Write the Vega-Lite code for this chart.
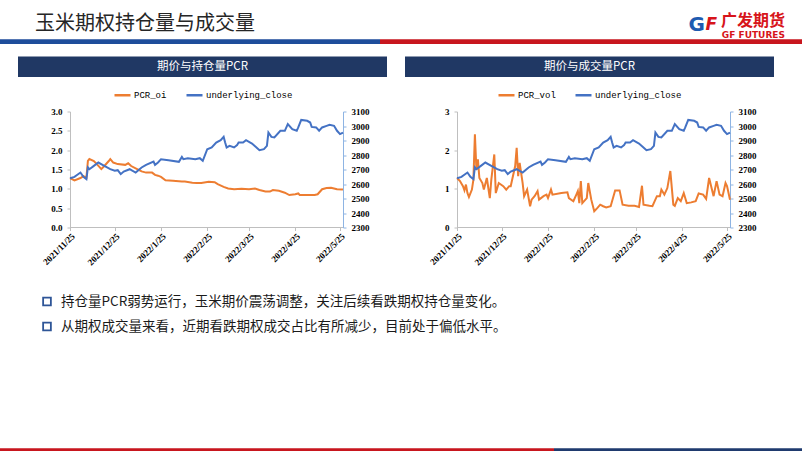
{
  "$schema": "https://vega.github.io/schema/vega-lite/v6.json",
  "background": "white",
  "padding": {"left": 0, "top": 12.5, "right": 0, "bottom": 0},
  "spacing": 12,
  "resolve": {"scale": {"color": "independent"}, "legend": {"color": "independent"}},
  "config": {
    "view": {"stroke": null},
    "font": "Noto Sans CJK SC",
    "axis": {"labelFont": "Liberation Serif", "labelFontWeight": "bold", "labelFontSize": 9, "labelColor": "#000000", "grid": false, "tickSize": 3, "domainColor": "#BFBFBF", "tickColor": "#BFBFBF", "domainWidth": 1},
    "legend": {"orient": "top", "direction": "horizontal", "symbolType": "stroke", "symbolStrokeWidth": 2.5, "symbolSize": 256, "labelFont": "Liberation Mono", "labelFontSize": 9, "labelColor": "#000000", "columnPadding": 14, "offset": 11, "padding": 0, "labelOffset": 2, "layout": {"top": {"anchor": "middle"}}}
  },
  "datasets": {
    "close": [
      {"date": "2021/11/25", "close": 2640}, {"date": "2021/11/28", "close": 2649}, {"date": "2021/12/02", "close": 2679}, {"date": "2021/12/04", "close": 2649}, {"date": "2021/12/06", "close": 2633}, {"date": "2021/12/07", "close": 2714}, {"date": "2021/12/08", "close": 2702}, {"date": "2021/12/11", "close": 2725}, {"date": "2021/12/14", "close": 2748}, {"date": "2021/12/18", "close": 2725}, {"date": "2021/12/22", "close": 2702}, {"date": "2021/12/25", "close": 2691}, {"date": "2021/12/27", "close": 2695}, {"date": "2021/12/29", "close": 2668}, {"date": "2021/12/31", "close": 2686},
      {"date": "2022/01/04", "close": 2702}, {"date": "2022/01/08", "close": 2679}, {"date": "2022/01/12", "close": 2714}, {"date": "2022/01/15", "close": 2732}, {"date": "2022/01/20", "close": 2755}, {"date": "2022/01/21", "close": 2732}, {"date": "2022/01/23", "close": 2748}, {"date": "2022/01/25", "close": 2771}, {"date": "2022/01/30", "close": 2764},
      {"date": "2022/02/06", "close": 2753}, {"date": "2022/02/08", "close": 2787}, {"date": "2022/02/09", "close": 2771}, {"date": "2022/02/12", "close": 2778}, {"date": "2022/02/17", "close": 2771}, {"date": "2022/02/20", "close": 2778}, {"date": "2022/02/22", "close": 2760}, {"date": "2022/02/25", "close": 2840}, {"date": "2022/02/28", "close": 2852},
      {"date": "2022/03/03", "close": 2886}, {"date": "2022/03/06", "close": 2902}, {"date": "2022/03/08", "close": 2925}, {"date": "2022/03/09", "close": 2886}, {"date": "2022/03/10", "close": 2852}, {"date": "2022/03/12", "close": 2863}, {"date": "2022/03/15", "close": 2852}, {"date": "2022/03/17", "close": 2868}, {"date": "2022/03/18", "close": 2886}, {"date": "2022/03/21", "close": 2886}, {"date": "2022/03/23", "close": 2902}, {"date": "2022/03/27", "close": 2879}, {"date": "2022/03/30", "close": 2852},
      {"date": "2022/04/01", "close": 2833}, {"date": "2022/04/04", "close": 2840}, {"date": "2022/04/06", "close": 2863}, {"date": "2022/04/07", "close": 2955}, {"date": "2022/04/09", "close": 2925}, {"date": "2022/04/11", "close": 2921}, {"date": "2022/04/15", "close": 2967}, {"date": "2022/04/18", "close": 2967}, {"date": "2022/04/20", "close": 3013}, {"date": "2022/04/23", "close": 2978}, {"date": "2022/04/26", "close": 2967}, {"date": "2022/04/27", "close": 2990}, {"date": "2022/04/29", "close": 3042},
      {"date": "2022/05/03", "close": 3036}, {"date": "2022/05/05", "close": 3024}, {"date": "2022/05/06", "close": 2994}, {"date": "2022/05/09", "close": 2990}, {"date": "2022/05/11", "close": 2967}, {"date": "2022/05/13", "close": 2990}, {"date": "2022/05/16", "close": 3001}, {"date": "2022/05/18", "close": 3008}, {"date": "2022/05/21", "close": 3001}, {"date": "2022/05/23", "close": 2967}, {"date": "2022/05/25", "close": 2944}, {"date": "2022/05/27", "close": 2955}
    ],
    "oi": [
      {"date": "2021/11/25", "pcr": 1.28}, {"date": "2021/11/28", "pcr": 1.22}, {"date": "2021/12/02", "pcr": 1.28}, {"date": "2021/12/04", "pcr": 1.33}, {"date": "2021/12/06", "pcr": 1.29}, {"date": "2021/12/07", "pcr": 1.72}, {"date": "2021/12/08", "pcr": 1.77}, {"date": "2021/12/11", "pcr": 1.72}, {"date": "2021/12/13", "pcr": 1.64}, {"date": "2021/12/16", "pcr": 1.51}, {"date": "2021/12/18", "pcr": 1.59}, {"date": "2021/12/21", "pcr": 1.72}, {"date": "2021/12/22", "pcr": 1.77}, {"date": "2021/12/24", "pcr": 1.68}, {"date": "2021/12/27", "pcr": 1.64},
      {"date": "2022/01/01", "pcr": 1.62}, {"date": "2022/01/03", "pcr": 1.66}, {"date": "2022/01/05", "pcr": 1.59}, {"date": "2022/01/09", "pcr": 1.51}, {"date": "2022/01/12", "pcr": 1.45}, {"date": "2022/01/15", "pcr": 1.42}, {"date": "2022/01/19", "pcr": 1.42}, {"date": "2022/01/21", "pcr": 1.36}, {"date": "2022/01/23", "pcr": 1.34}, {"date": "2022/01/25", "pcr": 1.31}, {"date": "2022/01/28", "pcr": 1.22},
      {"date": "2022/02/02", "pcr": 1.21}, {"date": "2022/02/08", "pcr": 1.19}, {"date": "2022/02/10", "pcr": 1.19}, {"date": "2022/02/15", "pcr": 1.16}, {"date": "2022/02/18", "pcr": 1.15}, {"date": "2022/02/21", "pcr": 1.15}, {"date": "2022/02/26", "pcr": 1.18},
      {"date": "2022/03/02", "pcr": 1.17}, {"date": "2022/03/04", "pcr": 1.12}, {"date": "2022/03/08", "pcr": 1.05}, {"date": "2022/03/11", "pcr": 1.01}, {"date": "2022/03/15", "pcr": 0.99}, {"date": "2022/03/20", "pcr": 1.0}, {"date": "2022/03/25", "pcr": 0.99}, {"date": "2022/03/29", "pcr": 1.01},
      {"date": "2022/04/01", "pcr": 0.97}, {"date": "2022/04/05", "pcr": 0.93}, {"date": "2022/04/08", "pcr": 0.93}, {"date": "2022/04/10", "pcr": 0.97}, {"date": "2022/04/14", "pcr": 0.95}, {"date": "2022/04/18", "pcr": 0.9}, {"date": "2022/04/21", "pcr": 0.84}, {"date": "2022/04/25", "pcr": 0.86}, {"date": "2022/04/27", "pcr": 0.88}, {"date": "2022/04/28", "pcr": 0.84},
      {"date": "2022/05/04", "pcr": 0.84}, {"date": "2022/05/08", "pcr": 0.84}, {"date": "2022/05/10", "pcr": 0.86}, {"date": "2022/05/13", "pcr": 0.99}, {"date": "2022/05/16", "pcr": 1.02}, {"date": "2022/05/19", "pcr": 1.03}, {"date": "2022/05/23", "pcr": 0.99}, {"date": "2022/05/27", "pcr": 0.98}
    ],
    "vol": [
      {"date": "2021/11/25", "pcr": 1.28}, {"date": "2021/11/27", "pcr": 1.2}, {"date": "2021/11/29", "pcr": 1.07}, {"date": "2021/11/30", "pcr": 0.96}, {"date": "2021/12/01", "pcr": 1.11}, {"date": "2021/12/02", "pcr": 0.89}, {"date": "2021/12/03", "pcr": 0.79}, {"date": "2021/12/05", "pcr": 0.98}, {"date": "2021/12/06", "pcr": 1.24}, {"date": "2021/12/07", "pcr": 2.41}, {"date": "2021/12/08", "pcr": 1.5}, {"date": "2021/12/09", "pcr": 1.76}, {"date": "2021/12/10", "pcr": 1.28}, {"date": "2021/12/12", "pcr": 1.15}, {"date": "2021/12/13", "pcr": 0.98}, {"date": "2021/12/15", "pcr": 1.28}, {"date": "2021/12/17", "pcr": 0.76}, {"date": "2021/12/18", "pcr": 1.24}, {"date": "2021/12/20", "pcr": 1.89}, {"date": "2021/12/21", "pcr": 0.89}, {"date": "2021/12/23", "pcr": 1.15}, {"date": "2021/12/26", "pcr": 1.07}, {"date": "2021/12/28", "pcr": 0.98}, {"date": "2021/12/30", "pcr": 1.07}, {"date": "2021/12/31", "pcr": 1.07},
      {"date": "2022/01/03", "pcr": 1.59}, {"date": "2022/01/04", "pcr": 2.06}, {"date": "2022/01/05", "pcr": 1.33}, {"date": "2022/01/06", "pcr": 1.67}, {"date": "2022/01/08", "pcr": 1.15}, {"date": "2022/01/09", "pcr": 0.81}, {"date": "2022/01/11", "pcr": 0.98}, {"date": "2022/01/13", "pcr": 0.55}, {"date": "2022/01/14", "pcr": 0.72}, {"date": "2022/01/16", "pcr": 0.81}, {"date": "2022/01/18", "pcr": 0.94}, {"date": "2022/01/19", "pcr": 0.72}, {"date": "2022/01/22", "pcr": 0.81}, {"date": "2022/01/24", "pcr": 0.85}, {"date": "2022/01/25", "pcr": 0.76}, {"date": "2022/01/27", "pcr": 0.98}, {"date": "2022/01/28", "pcr": 0.85},
      {"date": "2022/02/03", "pcr": 0.89}, {"date": "2022/02/07", "pcr": 0.91}, {"date": "2022/02/08", "pcr": 0.76}, {"date": "2022/02/11", "pcr": 0.68}, {"date": "2022/02/13", "pcr": 0.85}, {"date": "2022/02/14", "pcr": 0.94}, {"date": "2022/02/15", "pcr": 0.63}, {"date": "2022/02/16", "pcr": 1.2}, {"date": "2022/02/17", "pcr": 0.63}, {"date": "2022/02/20", "pcr": 0.76}, {"date": "2022/02/21", "pcr": 1.15}, {"date": "2022/02/23", "pcr": 0.72}, {"date": "2022/02/25", "pcr": 0.42}, {"date": "2022/02/27", "pcr": 0.5},
      {"date": "2022/03/01", "pcr": 0.59}, {"date": "2022/03/03", "pcr": 0.55}, {"date": "2022/03/05", "pcr": 0.52}, {"date": "2022/03/08", "pcr": 0.55}, {"date": "2022/03/11", "pcr": 0.96}, {"date": "2022/03/14", "pcr": 0.96}, {"date": "2022/03/16", "pcr": 0.59}, {"date": "2022/03/20", "pcr": 0.56}, {"date": "2022/03/24", "pcr": 0.56}, {"date": "2022/03/27", "pcr": 0.53}, {"date": "2022/03/29", "pcr": 1.08}, {"date": "2022/03/30", "pcr": 0.59},
      {"date": "2022/04/03", "pcr": 0.56}, {"date": "2022/04/05", "pcr": 0.55}, {"date": "2022/04/08", "pcr": 0.81}, {"date": "2022/04/10", "pcr": 0.81}, {"date": "2022/04/11", "pcr": 0.98}, {"date": "2022/04/13", "pcr": 0.85}, {"date": "2022/04/15", "pcr": 1.02}, {"date": "2022/04/17", "pcr": 1.46}, {"date": "2022/04/19", "pcr": 0.59}, {"date": "2022/04/20", "pcr": 0.56}, {"date": "2022/04/22", "pcr": 0.76}, {"date": "2022/04/24", "pcr": 0.68}, {"date": "2022/04/26", "pcr": 0.89}, {"date": "2022/04/28", "pcr": 0.63},
      {"date": "2022/05/01", "pcr": 0.65}, {"date": "2022/05/04", "pcr": 0.68}, {"date": "2022/05/06", "pcr": 0.88}, {"date": "2022/05/09", "pcr": 0.85}, {"date": "2022/05/11", "pcr": 0.74}, {"date": "2022/05/13", "pcr": 1.28}, {"date": "2022/05/16", "pcr": 0.81}, {"date": "2022/05/18", "pcr": 1.2}, {"date": "2022/05/20", "pcr": 0.85}, {"date": "2022/05/22", "pcr": 0.81}, {"date": "2022/05/24", "pcr": 1.15}, {"date": "2022/05/25", "pcr": 1.07}, {"date": "2022/05/27", "pcr": 0.72}
    ],
    "bullets": [
      {"line": 1, "text": "持仓量PCR弱势运行，玉米期价震荡调整，关注后续看跌期权持仓量变化。"},
      {"line": 2, "text": "从期权成交量来看，近期看跌期权成交占比有所减少，目前处于偏低水平。"}
    ]
  },
  "vconcat": [
    {
      "spacing": 0,
      "bounds": "flush",
      "hconcat": [
        {
          "width": 380, "height": 4.5,
          "data": {"values": [{"k": 1}]},
          "mark": {"type": "rect", "color": "#1E4D9B"},
          "encoding": {},
          "view": {"fill": "#1E4D9B", "stroke": null},
          "title": {"text": "玉米期权持仓量与成交量", "anchor": "start", "frame": "group", "dx": 35, "font": "Noto Sans CJK SC", "fontSize": 20, "fontWeight": "normal", "color": "#262626", "offset": 5.5}
        },
        {
          "width": 333, "height": 4.5,
          "data": {"values": [{"k": 1}]},
          "mark": {"type": "rect", "color": "#C8161E"},
          "encoding": {},
          "view": {"fill": "#C8161E", "stroke": null},
          "title": {"text": "G", "anchor": "end", "frame": "group", "dx": -8, "font": "DejaVu Sans", "fontSize": 20, "fontWeight": "bold", "color": "#1E5BB0", "offset": 5}
        },
        {
          "width": 9, "height": 4.5,
          "data": {"values": [{"k": 1}]},
          "mark": {"type": "rect", "color": "#C8161E"},
          "encoding": {},
          "view": {"fill": "#C8161E", "stroke": null},
          "title": {"text": "F", "anchor": "end", "frame": "group", "dx": -5, "font": "DejaVu Sans", "fontSize": 17, "fontWeight": "bold", "fontStyle": "italic", "color": "#D7141A", "offset": 6}
        },
        {
          "width": 80, "height": 4.5,
          "data": {"values": [{"k": 1}]},
          "mark": {"type": "rect", "color": "#C8161E"},
          "encoding": {},
          "view": {"fill": "#C8161E", "stroke": null},
          "title": {"text": "广发期货", "subtitle": "GF FUTURES", "anchor": "end", "frame": "group", "dx": -17, "font": "Noto Sans CJK SC", "fontSize": 16, "fontWeight": "bold", "color": "#D7141A", "subtitleFont": "DejaVu Sans", "subtitleFontSize": 9, "subtitleFontWeight": "bold", "subtitleColor": "#D7141A", "subtitlePadding": 2, "offset": 0}
        }
      ]
    },
    {
      "spacing": 17,
      "resolve": {"scale": {"color": "independent"}, "legend": {"color": "independent"}},
      "hconcat": [
        {"width": 1, "height": 1, "data": {"values": [{"k": 1}]}, "mark": {"type": "rect", "opacity": 0}, "encoding": {}},
        {
          "spacing": 18,
          "resolve": {"scale": {"color": "independent"}, "legend": {"color": "independent"}},
          "hconcat": [
            {
              "spacing": 8,
              "resolve": {"scale": {"color": "independent"}, "legend": {"color": "independent"}},
              "vconcat": [
                {
                  "width": 369, "height": 20.5,
                  "data": {"values": [{"t": "期价与持仓量PCR"}]},
                  "mark": {"type": "text", "color": "white", "fontSize": 11.5, "font": "Noto Sans CJK SC", "align": "center", "baseline": "middle"},
                  "encoding": {"text": {"field": "t"}},
                  "view": {"fill": "#203864", "stroke": null}
                },
                {
                  "width": 369, "height": 116,
                  "resolve": {"scale": {"y": "independent"}},
                  "layer": [
                    {
                      "layer": [
                        {
                          "data": {"name": "oi"},
                          "mark": {"type": "line", "strokeWidth": 2},
                          "encoding": {
                            "x": {"field": "date", "type": "temporal",
                              "scale": {"nice": false, "domain": [{"year": 2021, "month": 10, "date": 21, "hours": 3, "minutes": 25}, {"year": 2022, "month": 6, "date": 25, "hours": 11, "minutes": 50}]},
                              "axis": {"values": [{"year": 2021, "month": 11, "date": 25}, {"year": 2021, "month": 12, "date": 25}, {"year": 2022, "month": 1, "date": 25}, {"year": 2022, "month": 2, "date": 25}, {"year": 2022, "month": 3, "date": 25}, {"year": 2022, "month": 4, "date": 25}, {"year": 2022, "month": 5, "date": 25}], "format": "%Y/%-m/%-d", "labelAngle": -45, "domain": false, "ticks": true, "tickSize": 3, "title": null, "labelPadding": 1, "labelOverlap": false, "labelFlush": false, "labelBound": false}},
                            "y": {"field": "pcr", "type": "quantitative", "scale": {"domain": [0, 3], "nice": false, "zero": false},
                              "axis": {"orient": "left", "values": [0, 0.5, 1, 1.5, 2, 2.5, 3], "format": ".1f", "offset": -52, "title": null, "labelPadding": 5, "labelOverlap": false}},
                            "color": {"datum": "PCR_oi", "type": "nominal", "scale": {"domain": ["PCR_oi", "underlying_close"], "range": ["#ED7D31", "#4472C4"]}, "legend": {"title": null}}
                          }
                        },
                        {
                          "data": {"values": [{"k": 1}]},
                          "mark": {"type": "rule", "color": "#BFBFBF", "strokeWidth": 1},
                          "encoding": {
                            "x": {"datum": {"year": 2021, "month": 11, "date": 25}, "type": "temporal",
                              "axis": {"values": [{"year": 2021, "month": 11, "date": 25}, {"year": 2021, "month": 12, "date": 25}, {"year": 2022, "month": 1, "date": 25}, {"year": 2022, "month": 2, "date": 25}, {"year": 2022, "month": 3, "date": 25}, {"year": 2022, "month": 4, "date": 25}, {"year": 2022, "month": 5, "date": 25}], "format": "%Y/%-m/%-d", "labelAngle": -45, "domain": false, "ticks": true, "tickSize": 3, "title": null, "labelPadding": 1, "labelOverlap": false, "labelFlush": false, "labelBound": false}},
                            "x2": {"datum": {"year": 2022, "month": 5, "date": 27}},
                            "y": {"datum": 0, "type": "quantitative",
                              "axis": {"orient": "left", "values": [0, 0.5, 1, 1.5, 2, 2.5, 3], "format": ".1f", "offset": -52, "title": null, "labelPadding": 5, "labelOverlap": false}}
                          }
                        }
                      ]
                    },
                    {
                      "data": {"name": "close"},
                      "mark": {"type": "line", "strokeWidth": 2},
                      "encoding": {
                        "x": {"field": "date", "type": "temporal"},
                        "y": {"field": "close", "type": "quantitative", "scale": {"domain": [2300, 3100], "nice": false, "zero": false},
                          "axis": {"orient": "right", "values": [2300, 2400, 2500, 2600, 2700, 2800, 2900, 3000, 3100], "format": "d", "offset": -44, "title": null, "domainColor": "#8EB4E3", "tickColor": "#8EB4E3", "labelPadding": 5}},
                        "color": {"datum": "underlying_close", "type": "nominal"}
                      }
                    }
                  ]
                }
              ]
            },
            {
              "spacing": 8,
              "resolve": {"scale": {"color": "independent"}, "legend": {"color": "independent"}},
              "vconcat": [
                {
                  "width": 369, "height": 20.5,
                  "data": {"values": [{"t": "期价与成交量PCR"}]},
                  "mark": {"type": "text", "color": "white", "fontSize": 11.5, "font": "Noto Sans CJK SC", "align": "center", "baseline": "middle"},
                  "encoding": {"text": {"field": "t"}},
                  "view": {"fill": "#203864", "stroke": null}
                },
                {
                  "width": 369, "height": 116,
                  "resolve": {"scale": {"y": "independent"}},
                  "layer": [
                    {
                      "layer": [
                        {
                          "data": {"name": "vol"},
                          "mark": {"type": "line", "strokeWidth": 2},
                          "encoding": {
                            "x": {"field": "date", "type": "temporal",
                              "scale": {"nice": false, "domain": [{"year": 2021, "month": 10, "date": 21, "hours": 3, "minutes": 25}, {"year": 2022, "month": 6, "date": 25, "hours": 11, "minutes": 50}]},
                              "axis": {"values": [{"year": 2021, "month": 11, "date": 25}, {"year": 2021, "month": 12, "date": 25}, {"year": 2022, "month": 1, "date": 25}, {"year": 2022, "month": 2, "date": 25}, {"year": 2022, "month": 3, "date": 25}, {"year": 2022, "month": 4, "date": 25}, {"year": 2022, "month": 5, "date": 25}], "format": "%Y/%-m/%-d", "labelAngle": -45, "domain": false, "ticks": true, "tickSize": 3, "title": null, "labelPadding": 1, "labelOverlap": false, "labelFlush": false, "labelBound": false}},
                            "y": {"field": "pcr", "type": "quantitative", "scale": {"domain": [0, 3], "nice": false, "zero": false},
                              "axis": {"orient": "left", "values": [0, 1, 2, 3], "format": "d", "offset": -52, "title": null, "labelPadding": 5, "labelOverlap": false}},
                            "color": {"datum": "PCR_vol", "type": "nominal", "scale": {"domain": ["PCR_vol", "underlying_close"], "range": ["#ED7D31", "#4472C4"]}, "legend": {"title": null}}
                          }
                        },
                        {
                          "data": {"values": [{"k": 1}]},
                          "mark": {"type": "rule", "color": "#BFBFBF", "strokeWidth": 1},
                          "encoding": {
                            "x": {"datum": {"year": 2021, "month": 11, "date": 25}, "type": "temporal",
                              "axis": {"values": [{"year": 2021, "month": 11, "date": 25}, {"year": 2021, "month": 12, "date": 25}, {"year": 2022, "month": 1, "date": 25}, {"year": 2022, "month": 2, "date": 25}, {"year": 2022, "month": 3, "date": 25}, {"year": 2022, "month": 4, "date": 25}, {"year": 2022, "month": 5, "date": 25}], "format": "%Y/%-m/%-d", "labelAngle": -45, "domain": false, "ticks": true, "tickSize": 3, "title": null, "labelPadding": 1, "labelOverlap": false, "labelFlush": false, "labelBound": false}},
                            "x2": {"datum": {"year": 2022, "month": 5, "date": 27}},
                            "y": {"datum": 0, "type": "quantitative",
                              "axis": {"orient": "left", "values": [0, 1, 2, 3], "format": "d", "offset": -52, "title": null, "labelPadding": 5, "labelOverlap": false}}
                          }
                        }
                      ]
                    },
                    {
                      "data": {"name": "close"},
                      "mark": {"type": "line", "strokeWidth": 2},
                      "encoding": {
                        "x": {"field": "date", "type": "temporal"},
                        "y": {"field": "close", "type": "quantitative", "scale": {"domain": [2300, 3100], "nice": false, "zero": false},
                          "axis": {"orient": "right", "values": [2300, 2400, 2500, 2600, 2700, 2800, 2900, 3000, 3100], "format": "d", "offset": -44, "title": null, "domainColor": "#8EB4E3", "tickColor": "#8EB4E3", "labelPadding": 5}},
                        "color": {"datum": "underlying_close", "type": "nominal"}
                      }
                    }
                  ]
                }
              ]
            }
          ]
        }
      ]
    },
    {
      "spacing": 38,
      "hconcat": [
        {"width": 1, "height": 1, "data": {"values": [{"k": 1}]}, "mark": {"type": "rect", "opacity": 0}, "encoding": {}},
        {
          "width": 700, "height": 157,
          "data": {"name": "bullets"},
          "encoding": {
            "y": {"field": "line", "type": "quantitative", "scale": {"domain": [0.12, 6.4], "reverse": true, "nice": false, "zero": false}, "axis": null},
            "x": {"datum": 0, "type": "quantitative", "scale": {"domain": [0, 1]}, "axis": null}
          },
          "layer": [
            {"mark": {"type": "point", "shape": "square", "filled": false, "stroke": "#2E5597", "strokeWidth": 1.8, "size": 60, "opacity": 1}},
            {"mark": {"type": "text", "align": "left", "baseline": "middle", "dx": 14, "fontSize": 13.5, "font": "Noto Sans CJK SC", "color": "#1A1A1A"}, "encoding": {"text": {"field": "text"}}}
          ]
        }
      ]
    },
    {
      "spacing": 0,
      "hconcat": [
        {"width": 554, "height": 3, "data": {"values": [{"k": 1}]}, "mark": {"type": "rect", "color": "#C8161E"}, "encoding": {}, "view": {"fill": "#C8161E", "stroke": null}},
        {"width": 248, "height": 3, "data": {"values": [{"k": 1}]}, "mark": {"type": "rect", "color": "#1F3A6E"}, "encoding": {}, "view": {"fill": "#1F3A6E", "stroke": null}}
      ]
    }
  ]
}
